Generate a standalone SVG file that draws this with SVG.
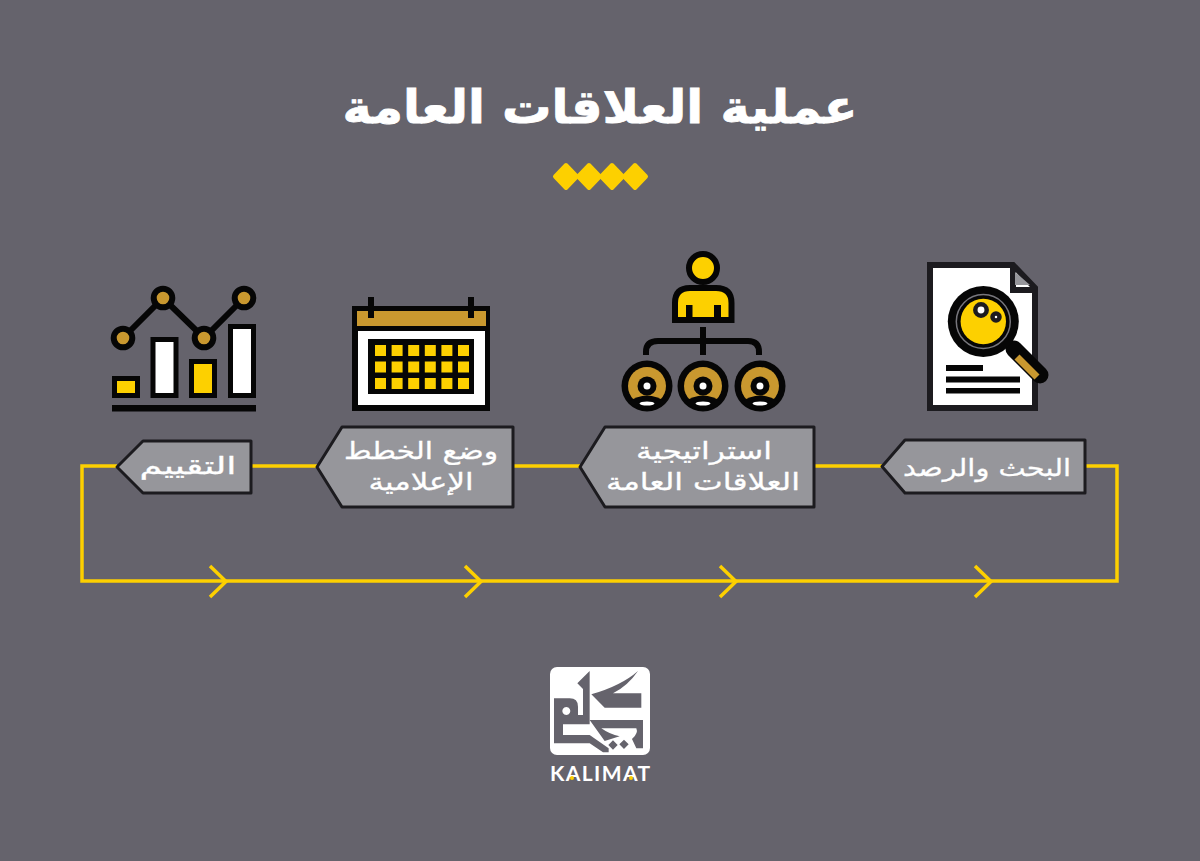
<svg xmlns="http://www.w3.org/2000/svg" width="1200" height="861" viewBox="0 0 1200 861">
<defs><style>
.ar{font-family:"DejaVu Sans",sans-serif;fill:#fff;text-anchor:middle;direction:rtl}
.lb{font-size:24px;stroke:#fff;stroke-width:.3}
.tag{fill:#96969b;stroke:#1c1b1f;stroke-width:3;stroke-linejoin:round}
.k{stroke:#060606;stroke-width:6;stroke-linejoin:miter}
.y{fill:#fdd000}.b{fill:#c9982f}.w{fill:#fff}.bk{fill:#060606}
.conn{fill:none;stroke:#fdd000;stroke-width:3.5}
</style></defs>
<rect width="1200" height="861" fill="#65636c"/>
<text id="title" class="ar" x="600" y="123" font-size="46" font-weight="700" stroke="#fff" stroke-width=".8" textLength="515" lengthAdjust="spacingAndGlyphs">عملية العلاقات العامة</text>
<g id="diamonds" class="y" stroke="#fdd000" stroke-width="4" stroke-linejoin="round">
<path d="M566 165L577 176.500L566 188L555 176.500Z"/><path d="M589 165L600 176.500L589 188L578 176.500Z"/><path d="M612 165L623 176.500L612 188L601 176.500Z"/><path d="M635 165L646 176.500L635 188L624 176.500Z"/>
</g>
<g id="connectors">
<path class="conn" d="M117 466H82V581H1117V466H1085M251 466H318M514 466H580M815 466H882"/>
<path class="conn" d="M210 566L226 581.500L210 597M465 566L481 581.500L465 597M720 566L736 581.500L720 597M975 566L991 581.500L975 597"/>
</g>
<g id="node-research">
<path d="M930 265H1013L1035 288V408H930Z" fill="#fff" stroke="#1c1b1f" stroke-width="6"/>
<path d="M1013 265V290H1035" fill="none" stroke="#1c1b1f" stroke-width="6"/>
<path d="M1015 272L1030 285H1015Z" fill="#96969b"/>
<path d="M1014 349L1040 375" stroke="#060606" stroke-width="17" stroke-linecap="round"/>
<path d="M1017 357L1037 377" stroke="#c9982f" stroke-width="7"/>
<circle cx="983.300" cy="321.500" r="35.500" fill="#060606"/><circle cx="983.300" cy="321.500" r="27" fill="none" stroke="#77767c" stroke-width="1.500"/>
<circle cx="983.300" cy="321.500" r="22.700" class="y"/>
<circle cx="981" cy="310" r="5.700" fill="#fff" stroke="#1c1b1f" stroke-width="4.500"/><circle cx="996" cy="317" r="3.500" fill="#fff" stroke="#1c1b1f" stroke-width="4.500"/>
<path class="bk" d="M946 365H983V371H946ZM946 376.500H1020V382.500H946ZM946 388H1020V393.500H946Z"/>
</g>
<g id="node-strategy">
<circle cx="703" cy="268" r="14" class="y k"/>
<path d="M675 320V303Q675 288 690 288H716Q731.500 288 731.500 303V320Z" class="y k"/>
<path class="bk" d="M686 305H692.500V319H686ZM714 305H721V319H714Z"/>
<path d="M703 327V355M646 355V352Q646 341 658 341H748Q759 341 759 352V355" fill="none" stroke="#060606" stroke-width="6"/>
<g id="p1"><circle cx="647" cy="386" r="25.500" class="bk"/><circle cx="647" cy="386" r="19" class="b"/><circle cx="647" cy="386" r="9.500" class="bk"/><circle cx="647" cy="386" r="3.500" class="w"/><path d="M628 402Q647 389 666 402Q647 418 628 402Z" class="bk"/><ellipse cx="647" cy="403.500" rx="7.500" ry="2" class="w"/></g>
<g id="p2"><circle cx="703" cy="386" r="25.500" class="bk"/><circle cx="703" cy="386" r="19" class="b"/><circle cx="703" cy="386" r="9.500" class="bk"/><circle cx="703" cy="386" r="3.500" class="w"/><path d="M684 402Q703 389 722 402Q703 418 684 402Z" class="bk"/><ellipse cx="703" cy="403.500" rx="7.500" ry="2" class="w"/></g>
<g id="p3"><circle cx="760" cy="386" r="25.500" class="bk"/><circle cx="760" cy="386" r="19" class="b"/><circle cx="760" cy="386" r="9.500" class="bk"/><circle cx="760" cy="386" r="3.500" class="w"/><path d="M741 402Q760 389 779 402Q760 418 741 402Z" class="bk"/><ellipse cx="760" cy="403.500" rx="7.500" ry="2" class="w"/></g>
</g>
<g id="node-plan">
<rect x="352" y="306" width="138" height="105" class="bk"/>
<rect x="357" y="311" width="129" height="15" class="b"/>
<rect x="358" y="331" width="127" height="74" class="w"/>
<rect x="368" y="339" width="106" height="55" class="bk"/>
<path class="bk" d="M368 297H374V318H368ZM468 297H474V318H468Z"/>
<path class="y" d="M375 345h11v11h-11zM391.600 345h11v11h-11zM408.200 345h11v11h-11zM424.800 345h11v11h-11zM441.400 345h11v11h-11zM458 345h11v11h-11zM375 361.500h11v11h-11zM391.600 361.500h11v11h-11zM408.200 361.500h11v11h-11zM424.800 361.500h11v11h-11zM441.400 361.500h11v11h-11zM458 361.500h11v11h-11zM375 378h11v11h-11zM391.600 378h11v11h-11zM408.200 378h11v11h-11zM424.800 378h11v11h-11zM441.400 378h11v11h-11zM458 378h11v11h-11z"/>
</g>
<g id="node-evaluate">
<path d="M123 338L163 298L204 338L244 298" fill="none" stroke="#060606" stroke-width="6"/>
<circle cx="123" cy="338" r="9.300" class="b" stroke="#060606" stroke-width="6"/><circle cx="163" cy="298" r="9.300" class="b" stroke="#060606" stroke-width="6"/><circle cx="204" cy="338" r="9.300" class="b" stroke="#060606" stroke-width="6"/><circle cx="244" cy="298" r="9.300" class="b" stroke="#060606" stroke-width="6"/>
<rect x="114.500" y="378.500" width="23" height="17" class="y k" style="stroke-width:5"/>
<rect x="153" y="339.500" width="23" height="56" class="w k" style="stroke-width:5"/>
<rect x="191.500" y="361.500" width="23" height="34" class="y k" style="stroke-width:5"/>
<rect x="230.500" y="326.500" width="23" height="69" class="w k" style="stroke-width:5"/>
<rect x="112" y="405" width="144" height="6.500" class="bk"/>
</g>
<g id="label-research"><path class="tag" d="M1085 440H905L882 466.500L905 493H1085Z"/><text class="ar lb" x="987" y="476" textLength="168" lengthAdjust="spacingAndGlyphs">البحث والرصد</text></g>
<g id="label-strategy"><path class="tag" d="M814 427H605L580 467L605 507H814Z"/><text class="ar lb" x="704" y="459" textLength="136" lengthAdjust="spacingAndGlyphs">استراتيجية</text><text class="ar lb" x="703" y="490" textLength="194" lengthAdjust="spacingAndGlyphs">العلاقات العامة</text></g>
<g id="label-plan"><path class="tag" d="M513 427H342L317 467L342 507H513Z"/><text class="ar lb" x="421" y="459" textLength="154" lengthAdjust="spacingAndGlyphs">وضع الخطط</text><text class="ar lb" x="421" y="490" textLength="105" lengthAdjust="spacingAndGlyphs">الإعلامية</text></g>
<g id="label-evaluate"><path class="tag" d="M251 441H143L117 467L143 493H251Z"/><text class="ar lb" x="188" y="474" textLength="97" lengthAdjust="spacingAndGlyphs">التقييم</text></g>
<g id="logo">
<rect x="550" y="667" width="100" height="88" rx="7" fill="#fff"/>
<g transform="translate(548 665) scale(.3333)" fill="#65636c">
<path fill-rule="evenodd" d="M125 18L88 55L105 72V150H90V125Q90 100 65 100H18V235H125L165 262H182V250L125 210H45V178H125ZM55 126A12 12 0 1 1 54.900 126Z"/>
<path d="M130 88Q220 62 270 18Q240 62 195 85H280V128H170Z"/>
<path d="M125 165H285V250H265L252 222Q272 205 265 190H160Q185 208 215 214L170 228Z"/>
<path d="M195 226L209 240L195 254L181 240ZM228 224L242 238L228 252L214 238Z"/>
</g>
</g>
<text id="logo-text" x="600" y="781" font-family="Lato,sans-serif" font-weight="700" font-size="21" fill="#fff" text-anchor="middle" textLength="100" lengthAdjust="spacing">KALIMAT</text>
<g id="logo-dots" class="y"><circle cx="572" cy="778" r="2"/><circle cx="631" cy="778" r="2"/></g>
</svg>
